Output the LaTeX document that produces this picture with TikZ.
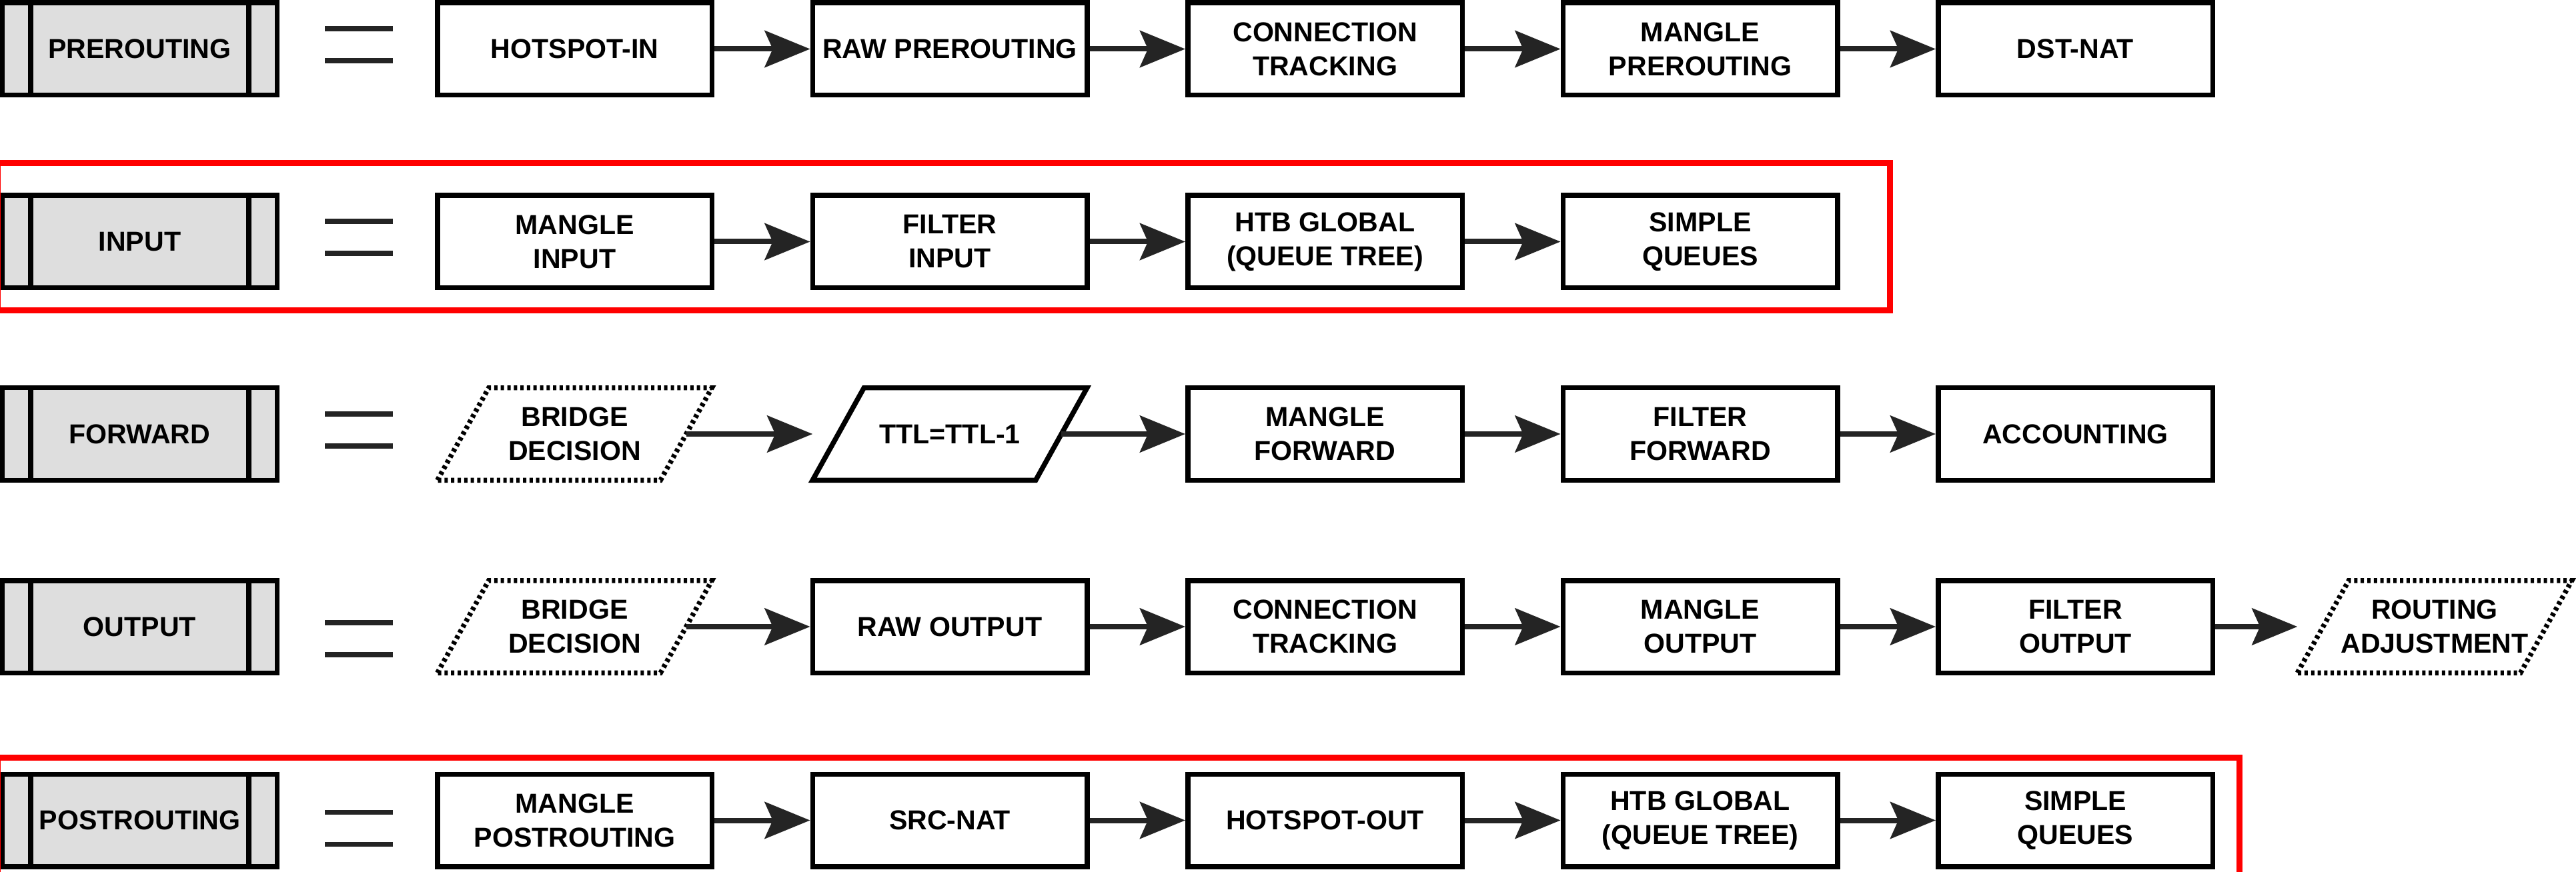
\documentclass[tikz,border=0pt]{standalone}
\usepackage{fontspec}
\setmainfont{Liberation Sans}
\usetikzlibrary{arrows.meta}
\definecolor{hookgray}{RGB}{222,222,222}
\definecolor{ink}{RGB}{36,36,36}
\definecolor{chainred}{RGB}{255,0,0}

\begin{document}
\begin{tikzpicture}[
        stage/.style={rectangle, draw, line width=0.075cm, minimum width=4.115cm, minimum height=1.385cm,
            inner sep=0pt, align=center, font=\bfseries\fontsize{11.7}{14.5}\selectfont},
        hook/.style={stage, fill=hookgray},
        slant/.style={stage, draw=none, outer sep=0pt},
        flow/.style={->, line width=0.08cm, draw=ink},
        eqbar/.style={line width=0.075cm, draw=ink},
        dotted edge/.style={line width=0.075cm, dash pattern=on 0.05cm off 0.048cm},
        >={Stealth[length=0.68cm, width=0.55cm, inset=0.12cm]}]
    \useasboundingbox (0,0) rectangle (38.62,-13.08);

    % PREROUTING
    \node[hook] (pre) at (2.095,-0.735) {PREROUTING};
    \node[stage] (hsin) at (8.615,-0.735) {HOTSPOT-IN};
    \node[stage] (rawpre) at (14.24,-0.735) {RAW PREROUTING};
    \node[stage] (ctpre) at (19.865,-0.735) {CONNECTION\\TRACKING};
    \node[stage] (mglpre) at (25.49,-0.735) {MANGLE\\PREROUTING};
    \node[stage] (dnat) at (31.115,-0.735) {DST-NAT};
    \coordinate (eq1) at (5.38,-0.67);

    % INPUT
    \node[hook] (inp) at (2.095,-3.625) {INPUT};
    \node[stage] (mglin) at (8.615,-3.625) {MANGLE\\INPUT};
    \node[stage] (fltin) at (14.24,-3.625) {FILTER\\INPUT};
    \node[stage] (htbin) at (19.865,-3.625) {HTB GLOBAL\\(QUEUE TREE)};
    \node[stage] (sqin) at (25.49,-3.625) {SIMPLE\\QUEUES};
    \coordinate (eq2) at (5.38,-3.56);

    % FORWARD
    \node[hook] (fwd) at (2.095,-6.51) {FORWARD};
    \node[slant] (bdf) at (8.615,-6.51) {BRIDGE\\DECISION};
    \node[slant] (ttl) at (14.24,-6.51) {TTL=TTL-1};
    \node[stage] (mglfwd) at (19.865,-6.51) {MANGLE\\FORWARD};
    \node[stage] (fltfwd) at (25.49,-6.51) {FILTER\\FORWARD};
    \node[stage] (acct) at (31.115,-6.51) {ACCOUNTING};
    \coordinate (eq3) at (5.38,-6.45);

    % OUTPUT
    \node[hook] (out) at (2.095,-9.40) {OUTPUT};
    \node[slant] (bdo) at (8.615,-9.40) {BRIDGE\\DECISION};
    \node[stage] (rawout) at (14.24,-9.40) {RAW OUTPUT};
    \node[stage] (ctout) at (19.865,-9.40) {CONNECTION\\TRACKING};
    \node[stage] (mglout) at (25.49,-9.40) {MANGLE\\OUTPUT};
    \node[stage] (fltout) at (31.115,-9.40) {FILTER\\OUTPUT};
    \node[slant] (radj) at (36.50,-9.40) {ROUTING\\ADJUSTMENT};
    \coordinate (eq4) at (5.38,-9.58);

    % POSTROUTING
    \node[hook] (post) at (2.095,-12.305) {POSTROUTING};
    \node[stage] (mglpost) at (8.615,-12.305) {MANGLE\\POSTROUTING};
    \node[stage] (snat) at (14.24,-12.305) {SRC-NAT};
    \node[stage] (hsout) at (19.865,-12.305) {HOTSPOT-OUT};
    \node[stage] (htbpost) at (25.49,-12.305) {HTB GLOBAL\\(QUEUE TREE)};
    \node[stage] (sqpost) at (31.115,-12.305) {SIMPLE\\QUEUES};
    \coordinate (eq5) at (5.38,-12.425);

    % chain boxes and shapes
    \foreach \n in {pre,inp,fwd,out,post}
        \draw[line width=0.075cm] ([xshift=0.46cm]\n.north west) -- ([xshift=0.46cm]\n.south west)
            ([xshift=-0.46cm]\n.north east) -- ([xshift=-0.46cm]\n.south east);
    \foreach \n in {bdf,bdo,radj}
        \draw[dotted edge] (\n.south west) -- ([xshift=0.77cm]\n.north west) -- (\n.north east)
            -- ([xshift=-0.77cm]\n.south east) -- cycle;
    \draw[line width=0.075cm] (ttl.south west) -- ([xshift=0.77cm]ttl.north west) -- (ttl.north east)
        -- ([xshift=-0.77cm]ttl.south east) -- cycle;
    \foreach \e in {eq1,eq2,eq3,eq4,eq5}
        \draw[eqbar] ([xshift=-0.51cm,yshift=0.24cm]\e) -- ([xshift=0.51cm,yshift=0.24cm]\e)
            ([xshift=-0.51cm,yshift=-0.24cm]\e) -- ([xshift=0.51cm,yshift=-0.24cm]\e);

    % flows
    \draw[flow] (hsin) -- (rawpre);
    \draw[flow] (rawpre) -- (ctpre);
    \draw[flow] (ctpre) -- (mglpre);
    \draw[flow] (mglpre) -- (dnat);
    \draw[flow] (mglin) -- (fltin);
    \draw[flow] (fltin) -- (htbin);
    \draw[flow] (htbin) -- (sqin);
    \draw[flow] ([xshift=-0.385cm]bdf.east) -- (ttl.west);
    \draw[flow] ([xshift=-0.385cm]ttl.east) -- (mglfwd);
    \draw[flow] (mglfwd) -- (fltfwd);
    \draw[flow] (fltfwd) -- (acct);
    \draw[flow] ([xshift=-0.385cm]bdo.east) -- (rawout);
    \draw[flow] (rawout) -- (ctout);
    \draw[flow] (ctout) -- (mglout);
    \draw[flow] (mglout) -- (fltout);
    \draw[flow] (fltout) -- (radj.west);
    \draw[flow] (mglpost) -- (snat);
    \draw[flow] (snat) -- (hsout);
    \draw[flow] (hsout) -- (htbpost);
    \draw[flow] (htbpost) -- (sqpost);

    % highlighted chains
    \draw[chainred, line width=0.09cm] (-0.03,-2.45) rectangle (28.33,-4.66);
    \draw[chainred, line width=0.09cm] (-0.03,-11.36) rectangle (33.57,-13.6);
\end{tikzpicture}
\end{document}
